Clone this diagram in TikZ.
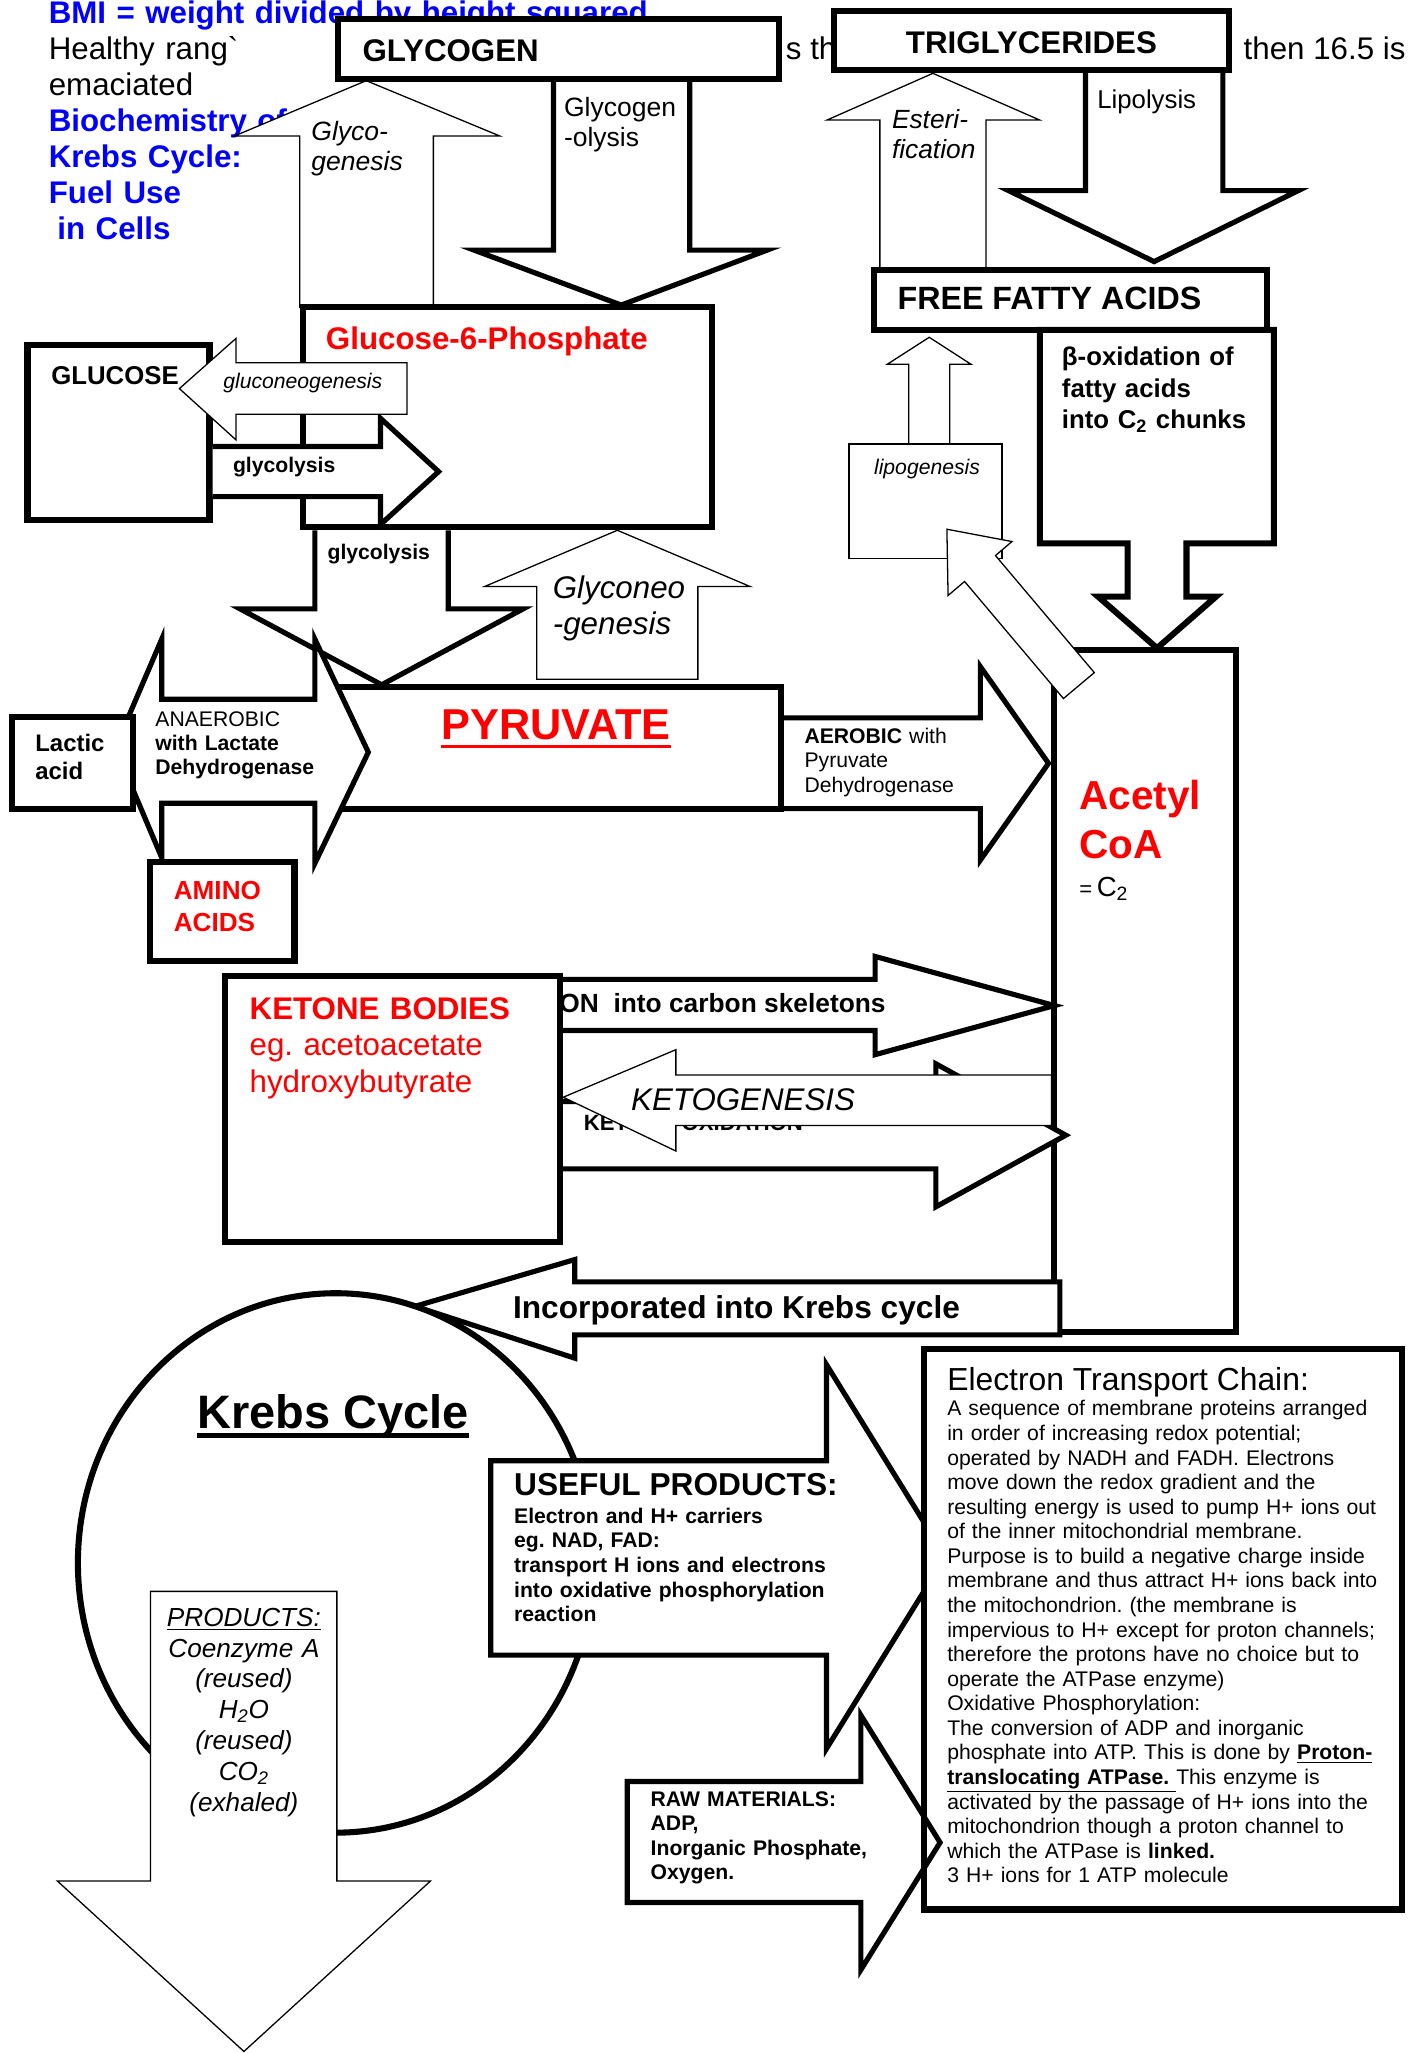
\documentclass[tikz,border=0pt]{standalone}
\usepackage{fontspec}
\setmainfont{Liberation Sans}
\frenchspacing

\definecolor{kblue}{RGB}{0,0,255}
\definecolor{kred}{RGB}{255,0,0}

\begin{document}
\begin{tikzpicture}[x=0.25mm, y=-0.25mm,
      % one unit is one pixel of the sketch, y runs downwards
      box/.style={draw=black, line width=3.3pt, fill=white},
      thinbox/.style={draw=black, line width=0.7pt, fill=white},
      fatarrow/.style={draw=black, line width=2.8pt, fill=white},
      thinarrow/.style={draw=black, line width=0.7pt, fill=white},
      txt/.style={inner sep=0pt, anchor=base west},
      para/.style={inner sep=0pt, anchor=base west, align=left, text width=#1} ]

    \useasboundingbox (0,0) rectangle (1089,1568);
    \fill[white] (0,0) rectangle (1089,1568);

    % Notes under everything
    \node[para=200mm, font=\fontsize{17}{19.6}\selectfont] (header) at (37,17.8)
    {\textcolor{kblue}{\bfseries BMI = weight divided by height squared}\\
    Healthy rang\textasciigrave\\ emaciated\\
    \textcolor{kblue}{\bfseries Biochemistry of}\\ \textcolor{kblue}{\bfseries Krebs Cycle:}\\
    \textcolor{kblue}{\bfseries Fuel Use}\\ \textcolor{kblue}{\bfseries\hspace*{4.7pt}in Cells}};
    \node[txt, font=\fontsize{17}{19.6}\selectfont] (behind1) at (600,45.3) {s th};
    \node[txt, font=\fontsize{17}{19.6}\selectfont] (behind2) at (949.6,45.8) {then 16.5 is};

    % Glycogenesis / glycogenolysis
    \draw[thinarrow] (229,234.8) -- (229,103.9) -- (179,103.9) -- (279.7,61.6) --
    (381.8,103.9) -- (331,103.9) -- (331,234.8) -- cycle;
    \draw[fatarrow] (422.7,60.5) -- (422.7,191) -- (362,191) -- (474.5,233) --
    (586,191) -- (526.8,191) -- (526.8,60.5);

    % Esterification / lipolysis
    \draw[thinarrow] (672,206.2) -- (672,91.6) -- (631.8,91.6) -- (712.5,56) --
    (793.9,91.6) -- (753,91.6) -- (753,206.2) -- cycle;
    \draw[fatarrow] (829,53.7) -- (829,145.6) -- (770.3,145.6) -- (881.5,199.8) --
    (991.5,145.6) -- (934,145.6) -- (934,53.7);

    % Stores
    \draw[box] (258.5,14.4) rectangle (595,60.5);
    \node[txt, font=\fontsize{17}{20}\selectfont\bfseries] (glycogen) at (276.6,47) {GLYCOGEN};
    \draw[box] (637,8.3) rectangle (939,53.7);
    \node[txt, font=\fontsize{17}{20}\selectfont\bfseries] (trig) at (691.6,40.7) {TRIGLYCERIDES};

    \node[para=30mm, font=\fontsize{14.4}{16.4}\selectfont\itshape] (glycogenesis) at (237.6,107)
    {Glyco-\\genesis};
    \node[para=30mm, font=\fontsize{14.4}{16.4}\selectfont] (glycogenolysis) at (430.5,89)
    {Glycogen\\-olysis};
    \node[para=30mm, font=\fontsize{14.3}{16.4}\selectfont\itshape] (esterification) at (681,98)
    {Esteri-\\fication};
    \node[txt, font=\fontsize{14}{16}\selectfont] (lipolysis) at (837.8,82.7) {Lipolysis};

    \draw[box] (231.3,234.8) rectangle (544.1,402.8);
    \node[txt, font=\fontsize{17}{20}\selectfont\bfseries, text=kred] (g6p) at (248.7,267.3)
    {Glucose-6-Phosphate};
    \draw[box] (667.2,206.2) rectangle (967.5,252);
    \node[txt, font=\fontsize{17.5}{20}\selectfont\bfseries] (ffa) at (685.3,236.7) {FREE FATTY ACIDS};

    % Glucose
    \draw[box] (21,263.5) rectangle (160,397);
    \node[txt, font=\fontsize{14}{16}\selectfont\bfseries] (glucose) at (38.9,294) {GLUCOSE};
    \draw[fatarrow] (162.3,341) -- (290.6,341) -- (290.6,319.5) -- (335,360.2) --
    (290.6,400.6) -- (290.6,379.3) -- (162.3,379.3);
    \draw[thinarrow] (310.9,277) -- (180.3,277) -- (180.3,258.4) -- (137,296.8) --
    (180.3,336) -- (180.3,316.4) -- (310.9,316.4) -- cycle;
    \node[txt, font=\fontsize{11.5}{13}\selectfont\itshape] (gluconeo) at (170.3,297) {gluconeogenesis};
    \node[txt, font=\fontsize{11.5}{13}\selectfont\bfseries] (glycolysisA) at (177.7,361) {glycolysis};

    % Beta oxidation
    \draw[box] (794.2,252) -- (972.9,252) -- (972.9,415) -- (906.2,415) -- (906.2,455.7) --
    (928.7,455.7) -- (883.7,495) -- (838.7,455.7) -- (861.2,455.7) -- (861.2,415) --
    (794.2,415) -- cycle;
    \node[para=45mm, font=\fontsize{14}{16.9}\selectfont\bfseries] (betaox) at (810.8,279.5)
    {β-oxidation of\\ fatty acids\\ into C\textsubscript{2} chunks};

    % Lipogenesis
    \draw[thinarrow] (694,339) -- (694,278.2) -- (677.7,278.2) -- (709.7,257.6) --
    (741.6,278.2) -- (725.4,278.2) -- (725.4,339);
    \draw[thinbox] (648.5,339) rectangle (765.3,426.4);
    \node[txt, font=\fontsize{11.5}{13}\selectfont\itshape] (lipogenesis) at (667.3,362.7) {lipogenesis};

    % Glyconeogenesis
    \draw[thinarrow] (410,518.8) -- (410,448) -- (370,448) -- (471.5,405) --
    (573,448) -- (533,448) -- (533,518.8) -- cycle;
    \node[para=30mm, font=\fontsize{17}{19.9}\selectfont\itshape] (glyconeo) at (422,457)
    {Glyconeo\\-genesis};

    % Pyruvate
    \draw[box] (250,524.9) rectangle (596.6,617.6);
    \draw[fatarrow] (598.9,548.3) -- (748.8,548.3) -- (748.8,509.2) -- (800.8,583) --
    (748.8,656.8) -- (748.8,617.6) -- (598.9,617.6);
    \draw[fatarrow] (240.5,405.1) -- (240.5,465) -- (183.3,465) -- (291.5,523) --
    (399.6,465) -- (342.4,465) -- (342.4,405.1);
    \node[txt, font=\fontsize{11.5}{13}\selectfont\bfseries] (glycolysisB) at (249.9,427.6) {glycolysis};
    \draw[fatarrow] (88,571) -- (123.5,488.2) -- (123.5,534) -- (240.5,534) -- (240.5,488.2) --
    (281.3,574.5) -- (240.5,659.3) -- (240.5,613.5) -- (123.5,613.5) -- (123.5,655) -- cycle;
    \node[para=40mm, font=\fontsize{11.5}{13.1}\selectfont] (anaerobic) at (118.4,555)
    {ANAEROBIC\\ \textbf{with Lactate}\\ \textbf{Dehydrogenase}};
    \node[txt, font=\fontsize{23.5}{27}\selectfont\bfseries, text=kred] (pyruvate) at (336.8,565) {PYRUVATE};
    \draw[kred, line width=1.8pt] ([yshift=-3.7pt]pyruvate.base west) -- ([yshift=-3.7pt]pyruvate.base east);
    \node[para=40mm, font=\fontsize{11.5}{13.3}\selectfont] (aerobic) at (614.2,567.8)
    {\textbf{AEROBIC} with\\ Pyruvate\\ Dehydrogenase};

    \draw[box] (9.2,547.5) rectangle (101.8,617.6);
    \node[para=20mm, font=\fontsize{13}{15.4}\selectfont\bfseries] (lactic) at (26.7,574) {Lactic\\ acid};
    \draw[box] (114.8,658) rectangle (224.9,734);
    \node[para=25mm, font=\fontsize{14.2}{17.2}\selectfont\bfseries, text=kred] (amino) at (132.5,687.3)
    {AMINO\\ ACIDS};

    % Acetyl CoA
    \draw[box] (805.3,496.2) rectangle (944.2,1017.2);
    \node[para=30mm, font=\fontsize{22}{26.7}\selectfont\bfseries, text=kred] (acetyl) at (824.2,618.3)
    {Acetyl\\ CoA};
    \node[txt, font=\fontsize{15}{18}\selectfont] (ctwo) at (824,684.8)
    {{\fontsize{12}{14}\selectfont=}\,C\textsubscript{2}};
    \draw[thinarrow] (835.8,513.7) -- (760.3,424.3) -- (772.9,413.6) -- (723.2,404.2) --
    (724.1,454.8) -- (736.7,444.1) -- (812.2,533.5) -- cycle;

    % Ketone bodies
    \draw[fatarrow] (428,748) -- (668.4,748) -- (668.4,730.5) -- (805.3,768) --
    (668.4,805.5) -- (668.4,787) -- (428,787);
    \node[txt, font=\fontsize{14.3}{16}\selectfont\bfseries] (deamination) at (427,773.4)
    {ON\ \ into carbon skeletons};
    \draw[fatarrow] (428,841.3) -- (714.8,841.3) -- (714.8,812.5) -- (814,867) --
    (714.8,921.7) -- (714.8,892.7) -- (428,892.7);
    \node[txt, font=\fontsize{12}{14}\selectfont\bfseries] (ketoneox) at (445.7,863.2) {KETONE OXIDATION};
    \draw[thinarrow] (803.1,821.1) -- (516.2,821.1) -- (516.2,801.7) -- (430.2,838) --
    (516.2,879.1) -- (516.2,859.6) -- (803.1,859.6) -- cycle;
    \node[txt, font=\fontsize{17}{20}\selectfont\itshape] (ketogenesis) at (481.8,848.4) {KETOGENESIS};
    \draw[box] (171.5,745.6) rectangle (427.9,948.5);
    \node[para=70mm, font=\fontsize{17}{19.9}\selectfont, text=kred] (ketone) at (190.4,778.4)
    {\textbf{KETONE BODIES}\\ eg. acetoacetate\\ hydroxybutyrate};

    % Krebs cycle
    \draw[line width=3.3pt, fill=white] (256.5,1193.7) ellipse [x radius=197, y radius=206];
    \node[txt, font=\fontsize{25.5}{30}\selectfont\bfseries] (krebs) at (150.5,1090.7) {Krebs Cycle};
    \draw[line width=2.6pt] ([yshift=-4.2pt]krebs.base west) -- ([yshift=-4.2pt]krebs.base east);
    \draw[fatarrow] (809.5,979) -- (439,979) -- (439,962) -- (317,997.7) --
    (439,1037.3) -- (439,1019.5) -- (809.5,1019.5) -- cycle;
    \node[txt, font=\fontsize{17.2}{20}\selectfont\bfseries] (incorp) at (391.6,1006.7)
    {Incorporated into Krebs cycle};

    \draw[fatarrow] (374.8,1115.7) -- (631.2,1115.7) -- (631.2,1042.2) -- (722,1189) --
    (631.2,1335.6) -- (631.2,1264.1) -- (374.8,1264.1) -- cycle;
    \node[txt, font=\fontsize{17.2}{20}\selectfont\bfseries] (usefultitle) at (392.4,1142.4) {USEFUL PRODUCTS:};
    \node[para=80mm, font=\fontsize{11.5}{13.4}\selectfont\bfseries] (useful) at (392.4,1163.3)
    {Electron and H+ carriers\\ eg. NAD, FAD:\\ transport H ions and electrons\\
    into oxidative phosphorylation\\ reaction};

    \draw[thinarrow] (114.9,1215.4) -- (257.3,1215.4) -- (257.3,1436.6) -- (328.8,1436.6) --
    (186.3,1566.8) -- (43.8,1436.6) -- (114.9,1436.6) -- cycle;
    \node[inner sep=0pt, anchor=base, align=center, text width=40mm,
    font=\fontsize{14.2}{16.75}\selectfont\itshape] (products) at (186.3,1242)
    {\underline{PRODUCTS:}\\ Coenzyme A\\ (reused)\\ H\textsubscript{2}O\\ (reused)\\
    CO\textsubscript{2}\\ (exhaled)};

    % Electron transport chain
    \fill[white] (706,1030.5) rectangle (1071,1458.4);
    \draw[fatarrow] (479.1,1360.6) -- (657.5,1360.6) -- (657.5,1310) -- (718,1407.2) --
    (657.5,1504.4) -- (657.5,1453) -- (479.1,1453) -- cycle;
    \node[para=60mm, font=\fontsize{11.5}{13.3}\selectfont\bfseries] (raw) at (496.7,1379.7)
    {RAW MATERIALS:\\ ADP,\\ Inorganic Phosphate,\\ Oxygen.};
    \draw[line width=3.3pt] (706,1030.5) rectangle (1071,1458.4);
    \node[txt, font=\fontsize{17.3}{20}\selectfont] (etctitle) at (723.2,1061.8) {Electron Transport Chain:};
    \node[para=88mm, font=\fontsize{11.5}{13.35}\selectfont] (etc) at (723.2,1081.4)
    {A sequence of membrane proteins arranged\\
    in order of increasing redox potential;\\
    operated by NADH and FADH. Electrons\\
    move down the redox gradient and the\\
    resulting energy is used to pump H+ ions out\\
    of the inner mitochondrial membrane.\\
    Purpose is to build a negative charge inside\\
    membrane and thus attract H+ ions back into\\
    the mitochondrion. (the membrane is\\
    impervious to H+ except for proton channels;\\
    therefore the protons have no choice but to\\
    operate the ATPase enzyme)\\
    Oxidative Phosphorylation:\\
    The conversion of ADP and inorganic\\
    phosphate into ATP. This is done by \underline{\textbf{Proton-}}\\
    \underline{\textbf{translocating ATPase.}\ }This enzyme is\\
    activated by the passage of H+ ions into the\\
    mitochondrion though a proton channel to\\
    which the ATPase is \textbf{linked.}\\
    3 H+ ions for 1 ATP molecule};

\end{tikzpicture}
\end{document}
